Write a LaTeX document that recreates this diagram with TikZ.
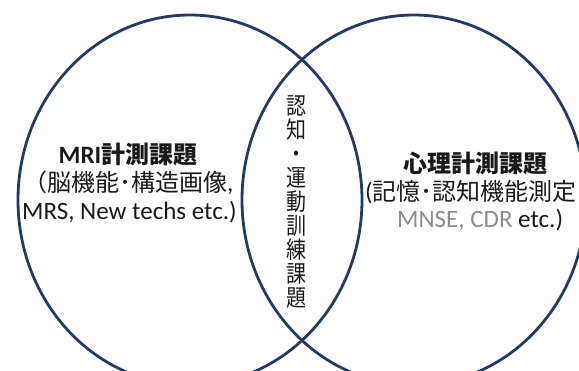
\documentclass[tikz,border=0pt]{standalone}
\usepackage{fontspec}
\setmainfont{Carlito}
\newfontfamily\jp[Scale=0.96]{Noto Sans CJK JP}
\newfontfamily\jpv[FakeStretch=0.85]{Noto Sans CJK JP}
\definecolor{navy}{RGB}{35,58,105}
\definecolor{txt}{RGB}{25,25,25}
\definecolor{gry}{RGB}{140,140,140}
\tikzset{
  ring/.style={draw=navy, line width=2.8pt},
  lbl/.style={inner sep=0pt, text=txt, font=\fontsize{25}{28}\selectfont},
  title/.style={lbl, font=\fontsize{25}{28}\selectfont\bfseries},
  vtext/.style={inner sep=0pt, text=txt, align=center, font=\fontsize{23.5}{23.9}\selectfont\jpv}
}
\begin{document}
\begin{tikzpicture}[x=1pt,y=-1pt]
\useasboundingbox (0,0) rectangle (579,371);
\begin{scope}
\clip (0,0) rectangle (579,371);
\draw[ring] (190,200) ellipse [x radius=172pt, y radius=185pt];
\draw[ring] (414,200) ellipse [x radius=172pt, y radius=185pt];
\end{scope}
\node[title] (mriT) at (128,154) {MRI{\jp 計測課題}};
\node[lbl, anchor=west] (mri2) at (23,183) {{\jp （脳機能･構造画像}, };
\node[lbl, anchor=west] (mri3) at (22,212) {MRS, New techs etc.)};
\node[title] (psyT) at (475,163) {\jp 心理計測課題};
\node[lbl, anchor=west] (psy2) at (365,192) {({\jp 記憶･認知機能測定}};
\node[lbl, anchor=west] (psy3) at (397,220) {\textcolor{gry}{MNSE, CDR} etc.)};
\node[vtext] (lens) at (296,202) {認\\知\\・\\運\\動\\訓\\練\\課\\題};
\end{tikzpicture}
\end{document}
